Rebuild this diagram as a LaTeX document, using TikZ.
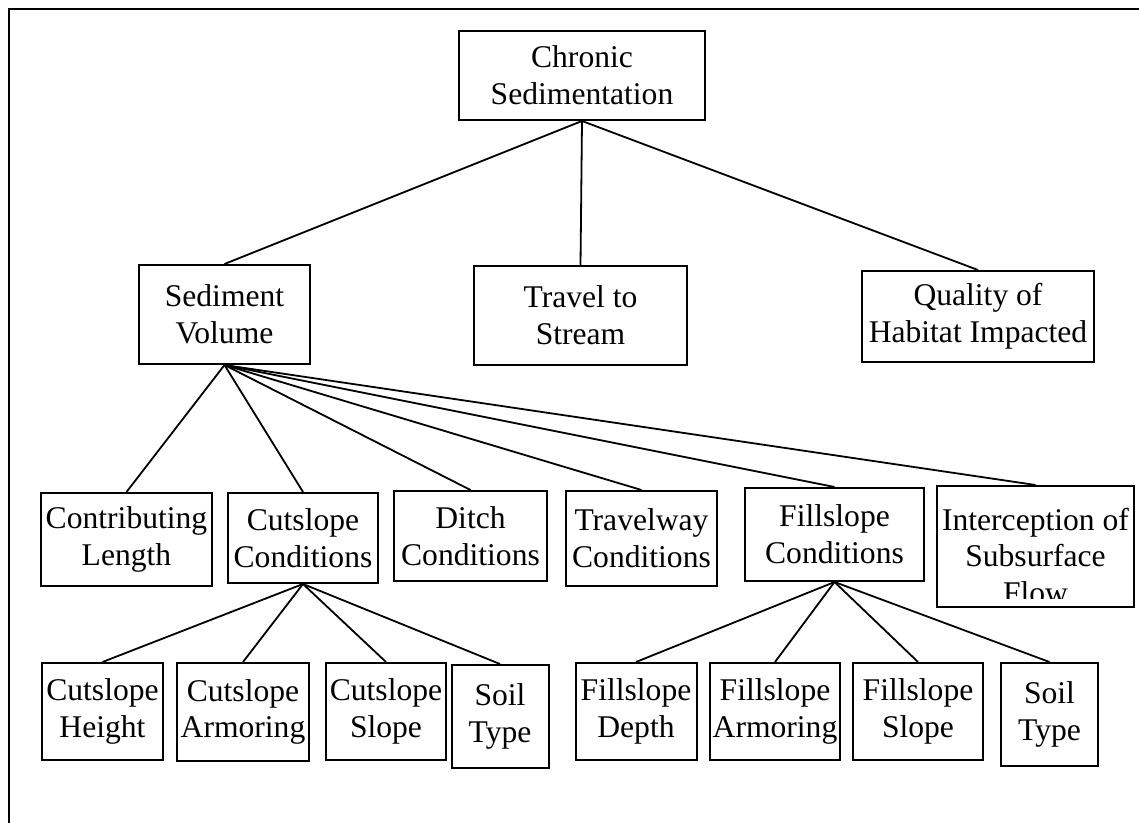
\documentclass[tikz,border=0pt]{standalone}
\usepackage{fontspec}
\setmainfont{Liberation Serif}
\begin{document}
\begin{tikzpicture}[x=0.5pt,y=-0.5pt,
    box/.style={draw,line width=1pt,align=center,inner sep=0pt,
      font=\fontsize{15.8}{18.4}\selectfont},
    sz/.style 2 args={minimum width=#1*0.5pt,minimum height=#2*0.5pt},
    link/.style={line width=0.9pt}
  ]
  \useasboundingbox (0,0) rectangle (1139,823);
  \draw[line width=1pt] (1139,9) -- (9,9) -- (9,823);
  % top level
  \node[box,sz={246}{89}] at (582,75.5) (chronic) {Chronic\\Sedimentation};
  \node[box,sz={171}{99}] at (224.5,314.5) (sedvol) {Sediment\\Volume};
  \node[box,sz={213}{99}] at (580.5,315.5) (travel) {Travel to\\Stream};
  \node[box,sz={232}{91}] at (978,316.5) (quality) {Quality of\\Habitat Impacted};
  % second level
  \node[box,sz={171}{93}] at (126.5,539.5) (contrib) {Contributing\\Length};
  \node[box,sz={150}{90}] at (303,538) (cutcond) {Cutslope\\Conditions};
  \node[box,sz={153}{90}] at (470.5,536) (ditch) {Ditch\\Conditions};
  \node[box,sz={151}{95}] at (641.5,538.5) (travelway) {Travelway\\Conditions};
  \node[box,sz={179}{93}] at (834.5,534.5) (fillcond) {Fillslope\\Conditions};
  \node[box,sz={197}{121}] at (1035.5,546.5) (intercept) {};
  \begin{scope}
    \clip (intercept.north west) rectangle ([yshift=5pt]intercept.south east);
    \node[align=center,inner sep=0pt,font=\fontsize{15.8}{18.4}\selectfont]
      at (1035.5,556) (intercepttext) {Interception of\\Subsurface\\Flow};
  \end{scope}
  % third level
  \node[box,sz={121}{97}] at (102.5,711.5) (cutheight) {Cutslope\\Height};
  \node[box,sz={132}{98}] at (243,712) (cutarmor) {Cutslope\\Armoring};
  \node[box,sz={120}{97}] at (386,711.5) (cutslope) {Cutslope\\Slope};
  \node[box,sz={97}{103}] at (500,716.5) (soilcut) {Soil\\Type};
  \node[box,sz={121}{97}] at (636,711.5) (filldepth) {Fillslope\\Depth};
  \node[box,sz={130}{97}] at (775,711.5) (fillarmor) {Fillslope\\Armoring};
  \node[box,sz={130}{97}] at (918,711.5) (fillslope) {Fillslope\\Slope};
  \node[box,sz={97}{103}] at (1049.5,714.5) (soilfill) {Soil\\Type};
  % connectors
  \draw[link] (chronic.south) -- (sedvol.north);
  \draw[link] (chronic.south) -- (travel.north);
  \draw[link] (chronic.south) -- (quality.north);
  \draw[link] (sedvol.south) -- (contrib.north);
  \draw[link] (sedvol.south) -- (cutcond.north);
  \draw[link] (sedvol.south) -- (ditch.north);
  \draw[link] (sedvol.south) -- (travelway.north);
  \draw[link] (sedvol.south) -- (fillcond.north);
  \draw[link] (sedvol.south) -- (intercept.north);
  \draw[link] (cutcond.south) -- (cutheight.north);
  \draw[link] (cutcond.south) -- (cutarmor.north);
  \draw[link] (cutcond.south) -- (cutslope.north);
  \draw[link] (cutcond.south) -- (soilcut.north);
  \draw[link] (fillcond.south) -- (filldepth.north);
  \draw[link] (fillcond.south) -- (fillarmor.north);
  \draw[link] (fillcond.south) -- (fillslope.north);
  \draw[link] (fillcond.south) -- (soilfill.north);
\end{tikzpicture}
\end{document}
